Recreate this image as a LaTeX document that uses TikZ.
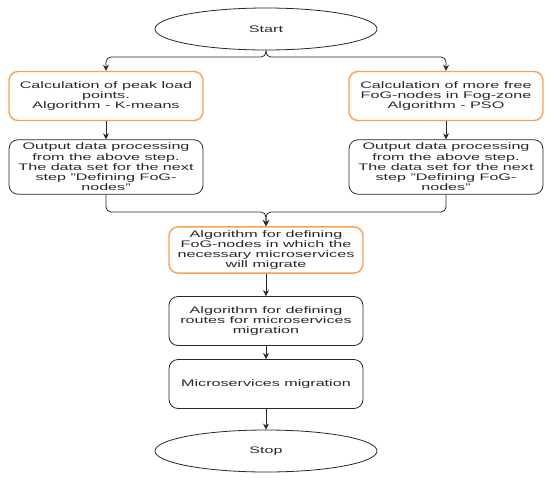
\documentclass[tikz,border=0pt]{standalone}
\usepackage{fontspec}
\setmainfont[FakeStretch=1.7]{Liberation Sans}
\usetikzlibrary{shapes.geometric,arrows.meta}
\definecolor{ocre}{RGB}{250,160,85}
\definecolor{ink}{RGB}{40,40,40}

\begin{document}
\begin{tikzpicture}[x=1pt,y=-1pt,>={Stealth[length=6pt,width=6pt]},
  line width=0.8pt, draw=ink,
  every node/.style={font=\fontsize{9.5}{10.2}\selectfont, align=center, text=ink},
  term/.style={draw=ink, ellipse, minimum width=222pt, minimum height=42pt},
  stepbox/.style={draw=ink, rounded corners=9pt, minimum width=194pt, minimum height=49pt},
  algbox/.style={stepbox, draw=ocre, line width=1.4pt}]
\useasboundingbox (0,0) rectangle (550,480);

\node [term] (start) at (266,29) {Start};

\node [algbox] (calcL) at (106,96) {Calculation of peak load\\points.\\Algorithm - K-means};
\node [algbox] (calcR) at (446,96) {Calculation of more free\\FoG-nodes in Fog-zone\\Algorithm - PSO};

\node [stepbox, minimum height=50pt] (outL) at (106,167) {Output data processing\\from the above step.\\The data set for the next\\step "Defining FoG-\\nodes"};
\node [stepbox, minimum height=50pt] (outR) at (446,167) {Output data processing\\from the above step.\\The data set for the next\\step "Defining FoG-\\nodes"};

\node [algbox, minimum height=46pt] (alg) at (266,250) {Algorithm for defining\\FoG-nodes in which the\\necessary microservices\\will migrate};
\node [stepbox] (routes) at (266,321) {Algorithm for defining\\routes for microservices\\migration};
\node [stepbox] (migr) at (266,384) {Microservices migration};

\node [term] (stop) at (266,451) {Stop};

% split after start
\draw [->, rounded corners=5pt] (start.south) -- (266,57) -| (calcL.north);
\draw [->, rounded corners=5pt] (start.south) -- (266,57) -| (calcR.north);

\draw [->] (calcL) -- (outL);
\draw [->] (calcR) -- (outR);

% merge into alg
\draw [->, rounded corners=5pt] (outL.south) -- (106,212) -| (alg.north);
\draw [->, rounded corners=5pt] (outR.south) -- (446,212) -| (alg.north);

\draw [->] (alg) -- (routes);
\draw [->] (routes) -- (migr);
\draw [->] (migr) -- (stop);

\end{tikzpicture}
\end{document}
